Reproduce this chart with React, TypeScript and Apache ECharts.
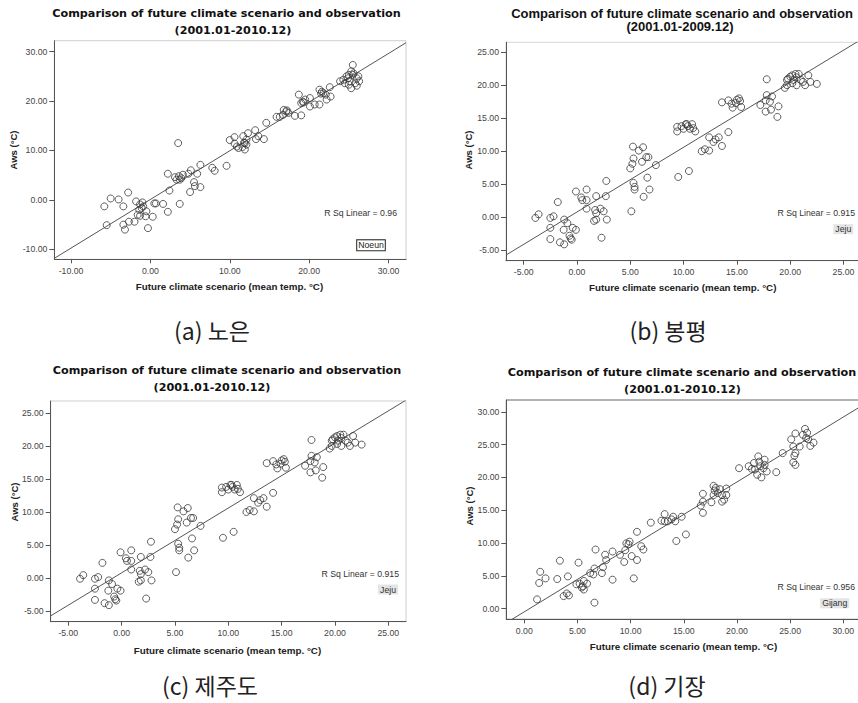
import React, { useEffect, useRef } from "react";
import * as echarts from "echarts";

// ---------- data ----------
const noeunPoints: number[][] = [
  [10.0, 12.1], [10.6, 12.7], [11.7, 12.9], [12.3, 13.5], [13.2, 14.1], [13.6, 12.9], [13.3, 12.3], [14.3, 12.3], [14.6, 15.6],
  [10.9, 10.8], [11.9, 11.5], [12.1, 12.2], [10.6, 11.4], [11.1, 10.5], [11.6, 10.7], [11.9, 10.2], [12.1, 11.2], [11.8, 11.6],
  [15.9, 16.8], [16.3, 16.8], [16.7, 17.2], [17.1, 17.9], [16.8, 18.2], [17.2, 18.1], [17.4, 17.6],
  [18.7, 21.3], [18.2, 17.0], [19.0, 17.1], [19.2, 19.9], [19.5, 20.3], [19.0, 19.6], [20.1, 20.6], [20.1, 18.9], [20.7, 19.3],
  [21.3, 19.3], [21.6, 21.9], [21.3, 22.3], [21.8, 21.6], [22.2, 20.3], [22.6, 22.8], [22.1, 21.3], [22.7, 20.9], [19.3, 19.7], [21.5, 21.5],
  [23.9, 24.0], [24.3, 24.3], [24.7, 25.0], [25.0, 25.3], [25.3, 26.0], [25.5, 27.3], [25.5, 25.3], [25.1, 24.0], [25.3, 22.6],
  [25.8, 23.6], [26.0, 24.6], [26.2, 25.0], [26.3, 24.0], [26.0, 23.1], [24.5, 23.6], [25.0, 23.3], [25.6, 25.6], [24.9, 24.6],
  [3.5, 11.5], [9.6, 6.9], [7.8, 6.5], [8.1, 5.9], [6.3, 7.1], [5.9, 5.3], [5.1, 6.0], [4.8, 5.3], [5.5, 3.6], [5.6, 2.8],
  [6.3, 2.6], [5.0, 1.6], [2.2, 5.3], [3.1, 4.6], [3.3, 4.1], [3.6, 4.8], [3.9, 4.4], [4.1, 5.1], [3.7, 4.1], [2.4, 1.9],
  [3.7, -0.8], [2.2, -2.4], [1.6, -0.8], [0.7, -0.7], [0.5, -0.7], [0.3, -3.4], [-0.3, -5.7], [-0.6, -3.3], [-0.5, -2.3],
  [-1.0, -0.5], [-1.1, -1.6], [-1.4, -2.0], [-1.6, -3.0], [-1.3, -3.2], [-1.8, -0.3], [-2.8, 1.5], [-3.4, -1.3], [-3.4, -5.0],
  [-3.2, -6.0], [-2.7, -4.4], [-2.0, -4.4], [-4.0, 0.1], [-5.0, 0.3], [-5.8, -1.3], [-5.5, -5.1], [-0.9, -1.3], [-1.3, -0.9],
];

const jejuPoints: number[][] = [
  [17.8, 20.9], [19.7, 20.8], [19.8, 21.0], [20.0, 21.3], [20.2, 21.5], [20.5, 21.7], [20.8, 21.7], [20.6, 21.2], [20.3, 20.8],
  [20.2, 20.3], [19.7, 20.0], [19.5, 19.6], [20.6, 20.0], [21.2, 20.5], [21.4, 20.0], [21.7, 21.5], [21.9, 20.5], [22.5, 20.2], [21.0, 20.8],
  [17.8, 18.5], [18.3, 18.3], [17.7, 17.7], [18.1, 17.5], [17.2, 17.0], [17.7, 16.0], [18.2, 16.3], [18.9, 16.8], [18.8, 15.2],
  [13.6, 17.4], [14.2, 17.7], [14.5, 17.2], [14.6, 16.6], [15.0, 17.8], [15.2, 18.0], [15.3, 17.6], [15.4, 16.7], [14.9, 17.3],
  [9.4, 13.7], [9.4, 13.0], [9.8, 13.8], [10.2, 14.1], [10.4, 13.8], [10.0, 13.4], [10.6, 13.4], [10.9, 13.5], [11.1, 13.0], [10.3, 14.1], [10.8, 14.1],
  [12.4, 12.1], [13.0, 11.8], [13.3, 12.1], [12.8, 11.4], [14.2, 12.9], [13.6, 10.8], [11.7, 10.0], [12.0, 10.3], [12.4, 10.1],
  [5.25, 10.7], [5.8, 10.1], [6.2, 10.6], [5.3, 8.9], [5.2, 8.1], [5.0, 7.4], [6.1, 8.4], [6.5, 9.1], [6.7, 9.1], [7.4, 7.9],
  [5.3, 5.2], [5.4, 4.6], [5.4, 4.2], [6.6, 6.0], [6.8, 4.2], [6.25, 3.1], [5.1, 0.9], [9.5, 6.1], [10.5, 7.0],
  [2.75, 5.5], [2.7, 3.2], [1.8, 3.2], [0.9, 4.2], [-0.1, 3.9], [0.4, 3.0], [0.5, 2.6], [0.9, 2.6], [0.9, 1.3], [1.7, 1.1],
  [1.8, 0.6], [2.2, 1.3], [2.5, 0.9], [2.8, -0.35], [1.8, -0.35], [1.6, -0.55], [2.3, -3.1],
  [-1.8, 2.3], [-3.6, 0.45], [-3.9, -0.1], [-2.5, -0.1], [-2.2, 0.15], [-1.2, -0.35], [-0.9, -0.9], [-0.4, -1.6], [-0.1, -1.9],
  [-1.25, -1.9], [-2.5, -1.6], [-2.5, -3.3], [-1.6, -3.8], [-1.2, -4.1], [-0.7, -2.8], [-0.6, -3.2], [-0.5, -3.4],
];

const gijangPoints: number[][] = [
  [17.8, 18.7], [18.0, 18.4], [18.4, 18.2], [19.0, 18.3],
  [20.2, 21.4], [21.1, 21.7], [21.4, 21.3], [21.6, 22.2], [22.0, 23.2], [22.1, 22.4], [21.7, 21.2], [21.9, 20.4], [22.3, 20.0],
  [22.6, 22.7], [22.6, 21.9], [22.5, 21.4], [22.8, 20.9], [22.2, 21.7], [23.7, 20.8],
  [24.3, 23.7], [25.1, 25.8], [25.5, 26.7], [25.3, 24.7], [25.5, 23.7], [25.4, 23.3], [25.3, 22.3], [25.5, 21.9], [25.9, 24.7],
  [26.2, 26.5], [26.4, 27.4], [26.6, 26.8], [26.5, 26.0], [26.7, 25.8], [26.9, 24.8], [27.2, 25.3],
  [17.8, 17.3], [17.9, 18.0], [18.2, 17.6], [18.6, 17.3], [18.6, 16.3], [18.8, 16.6], [19.0, 17.3], [16.8, 17.5], [16.8, 16.3],
  [16.6, 15.7], [16.8, 14.6], [17.6, 16.2],
  [13.2, 14.4], [12.9, 13.4], [13.2, 13.3], [13.5, 13.3], [13.85, 13.6], [14.0, 14.0], [14.2, 13.3], [14.8, 14.0], [11.9, 13.1],
  [14.3, 10.3], [15.2, 11.3],
  [10.6, 11.7], [9.9, 10.2], [9.6, 9.95], [9.8, 9.8], [9.5, 8.9], [9.0, 8.2], [8.3, 8.7], [7.6, 8.2], [7.7, 7.4], [7.4, 6.3],
  [6.7, 9.0], [10.1, 8.0], [10.6, 7.4], [11.0, 9.5], [11.2, 9.0], [9.4, 7.1], [10.3, 4.6], [8.3, 4.4],
  [6.6, 6.1], [6.5, 5.2], [6.2, 5.4], [7.3, 5.4], [6.6, 0.9],
  [5.9, 3.8], [5.6, 4.2], [5.5, 3.4], [5.6, 2.9], [5.2, 3.8], [5.4, 3.2], [4.9, 3.7], [5.1, 7.0],
  [4.1, 4.9], [4.0, 2.3], [4.2, 2.0], [3.7, 1.9], [3.35, 7.3], [3.1, 4.5], [2.0, 4.6],
  [1.5, 5.6], [1.4, 3.9], [1.2, 1.4],
];

const titleLine = "Comparison of future climate scenario and observation";
const periods = ["(2001.01-2010.12)", "(2001.01-2009.12)", "(2001.01-2010.12)", "(2001.01-2010.12)"];
const captions = ["(a) 노은", "(b) 봉평", "(c) 제주도", "(d) 기장"];
const stations = ["Noeun", "Jeju", "Jeju", "Gijang"];
const rSquared = ["0.96", "0.915", "0.915", "0.956"];
const fitSlopes = [0.984, 0.98, 0.98, 0.99];
const fitIntercepts = [0.1, 0.8, 0.8, -0.5];
const xTickValues = [
  [-10, 0, 10, 20, 30],
  [-5, 0, 5, 10, 15, 20, 25],
  [-5, 0, 5, 10, 15, 20, 25],
  [0, 5, 10, 15, 20, 25, 30],
];
const yTickValues = [
  [-10, 0, 10, 20, 30],
  [-5, 0, 5, 10, 15, 20, 25],
  [-5, 0, 5, 10, 15, 20, 25],
  [0, 5, 10, 15, 20, 25, 30],
];
const xAxisTitle = "Future climate scenario (mean temp. °C)";
const yAxisTitle = "Aws (°C)";

// ---------- layout ----------
const panels = [
  {
    data: noeunPoints, grid: { left: 54.3, top: 40.7, width: 351.7, height: 218.6 },
    xr: [-12.1, 32.2], yr: [-12.0, 32.2], frame: "#cfcfcf",
    t1: [226.5, 13.3], t2: [233, 30], titleFont: 'bold 11.2px "DejaVu Sans"',
    rsq: [397, 213.3], box: [371, 245.3], yName: [13.3, 150], xName: [229.5, 286.7], cap: [212, 330],
  },
  {
    data: jejuPoints, grid: { left: 506, top: 42.3, width: 354, height: 218.4 },
    xr: [-6.66, 26.55], yr: [-6.58, 26.5], frame: "#d6d6d6",
    t1: [682, 13.3], t2: [680, 26.7], titleFont: 'bold 13px "Liberation Sans"',
    rsq: [855, 213.3], box: [843.3, 229.2], yName: [468, 150], xName: [682.7, 287], cap: [668, 330],
  },
  {
    data: jejuPoints, grid: { left: 50.7, top: 401, width: 355.3, height: 220.7 },
    xr: [-6.65, 26.66], yr: [-6.6, 26.8], frame: "#cfcfcf",
    t1: [227, 370.7], t2: [212, 387.7], titleFont: 'bold 11.2px "DejaVu Sans"',
    rsq: [399, 574], box: [388, 589.5], yName: [14, 502], xName: [227.5, 650], cap: [210, 685],
  },
  {
    data: gijangPoints, grid: { left: 506.3, top: 400, width: 354, height: 219.3 },
    xr: [-1.69, 31.6], yr: [-1.64, 31.8], frame: "#666666",
    t1: [682, 372.3], t2: [682.5, 389], titleFont: 'bold 11.2px "DejaVu Sans"',
    rsq: [855, 587], box: [834.7, 603.3], yName: [469.3, 506], xName: [683.5, 646.7], cap: [667, 685],
  },
];

const tickFont = "Liberation Sans";

export default function App() {
  const ref = useRef<HTMLDivElement>(null);
  useEffect(() => {
    if (!ref.current) return;
    const chart = echarts.init(ref.current, undefined, { renderer: "svg" });

    const grids: any[] = [];
    const xAxes: any[] = [];
    const yAxes: any[] = [];
    const series: any[] = [];
    const graphics: any[] = [];

    panels.forEach((p, i) => {
      grids.push({
        ...p.grid,
        show: true,
        borderColor: p.frame,
        borderWidth: 1,
        backgroundColor: "transparent",
        containLabel: false,
        outerBoundsMode: "none",
      });
      const axisCommon = {
        type: "value",
        splitLine: { show: false },
        axisLine: { show: true, onZero: false, lineStyle: { color: "#555", width: 1 } },
      };
      xAxes.push({
        ...axisCommon,
        gridIndex: i,
        min: p.xr[0],
        max: p.xr[1],
        axisTick: { show: true, length: 4, customValues: xTickValues[i], lineStyle: { color: "#555" } },
        axisLabel: {
          customValues: xTickValues[i],
          formatter: (v: number) => v.toFixed(2),
          color: "#444",
          fontSize: 8.7,
          fontFamily: tickFont,
          margin: 7,
        },
      });
      yAxes.push({
        ...axisCommon,
        gridIndex: i,
        min: p.yr[0],
        max: p.yr[1],
        axisTick: { show: true, length: 5, customValues: yTickValues[i], lineStyle: { color: "#555" } },
        axisLabel: {
          customValues: yTickValues[i],
          formatter: (v: number) => v.toFixed(2),
          color: "#444",
          fontSize: 8.7,
          fontFamily: tickFont,
          margin: 7,
        },
      });
      const x0 = p.xr[0];
      const x1 = p.xr[1];
      series.push({
        type: "line",
        xAxisIndex: i,
        yAxisIndex: i,
        data: [
          [x0, fitIntercepts[i] + fitSlopes[i] * x0],
          [x1, fitIntercepts[i] + fitSlopes[i] * x1],
        ],
        symbol: "none",
        clip: true,
        silent: true,
        lineStyle: { color: "#555", width: 1 },
        z: 2,
      });
      series.push({
        type: "scatter",
        xAxisIndex: i,
        yAxisIndex: i,
        data: p.data,
        symbol: "circle",
        symbolSize: 7,
        silent: true,
        itemStyle: { color: "rgba(0,0,0,0)", borderColor: "#3a3a3a", borderWidth: 1 },
        z: 3,
      });

      graphics.push({
        type: "text", x: p.t1[0], y: p.t1[1],
        style: { text: titleLine, font: p.titleFont, fill: "#111", textAlign: "center", verticalAlign: "middle" },
      });
      graphics.push({
        type: "text", x: p.t2[0], y: p.t2[1],
        style: { text: periods[i], font: p.titleFont, fill: "#111", textAlign: "center", verticalAlign: "middle" },
      });
      graphics.push({
        type: "text", x: p.rsq[0], y: p.rsq[1],
        style: {
          text: "R Sq Linear = " + rSquared[i], font: `8.7px "${tickFont}"`, fill: "#333",
          textAlign: "right", verticalAlign: "middle",
        },
      });
      graphics.push({
        type: "text", x: p.box[0], y: p.box[1],
        style: i === 0
          ? {
              text: stations[i], font: `8.7px "${tickFont}"`, fill: "#222", textAlign: "center", verticalAlign: "middle",
              backgroundColor: "#fff", borderColor: "#222", borderWidth: 1, padding: [1, 1, 0, 1],
            }
          : {
              text: stations[i], font: `8.7px "${tickFont}"`, fill: "#333", textAlign: "center", verticalAlign: "middle",
              backgroundColor: "#e4e4e4", padding: [1, 2, 0, 2],
            },
      });
      graphics.push({
        type: "text", x: p.yName[0], y: p.yName[1], rotation: Math.PI / 2,
        style: { text: yAxisTitle, font: `bold 9.5px "${tickFont}"`, fill: "#222", textAlign: "center", verticalAlign: "middle" },
      });
      graphics.push({
        type: "text", x: p.xName[0], y: p.xName[1],
        style: { text: xAxisTitle, font: `bold 9.8px "${tickFont}"`, fill: "#222", textAlign: "center", verticalAlign: "middle" },
      });
      graphics.push({
        type: "text", x: p.cap[0], y: p.cap[1],
        style: { text: captions[i], font: '23px "Noto Sans CJK KR"', fill: "#222", textAlign: "center", verticalAlign: "middle" },
      });
    });

    chart.setOption({
      animation: false,
      backgroundColor: "#ffffff",
      grid: grids,
      xAxis: xAxes,
      yAxis: yAxes,
      series,
      graphic: { elements: graphics },
    });
    return () => chart.dispose();
  }, []);

  return (
    <div
      ref={ref}
      style={{ position: "absolute", left: 0, top: 0, width: 858, height: 703, background: "#fff" }}
    />
  );
}
